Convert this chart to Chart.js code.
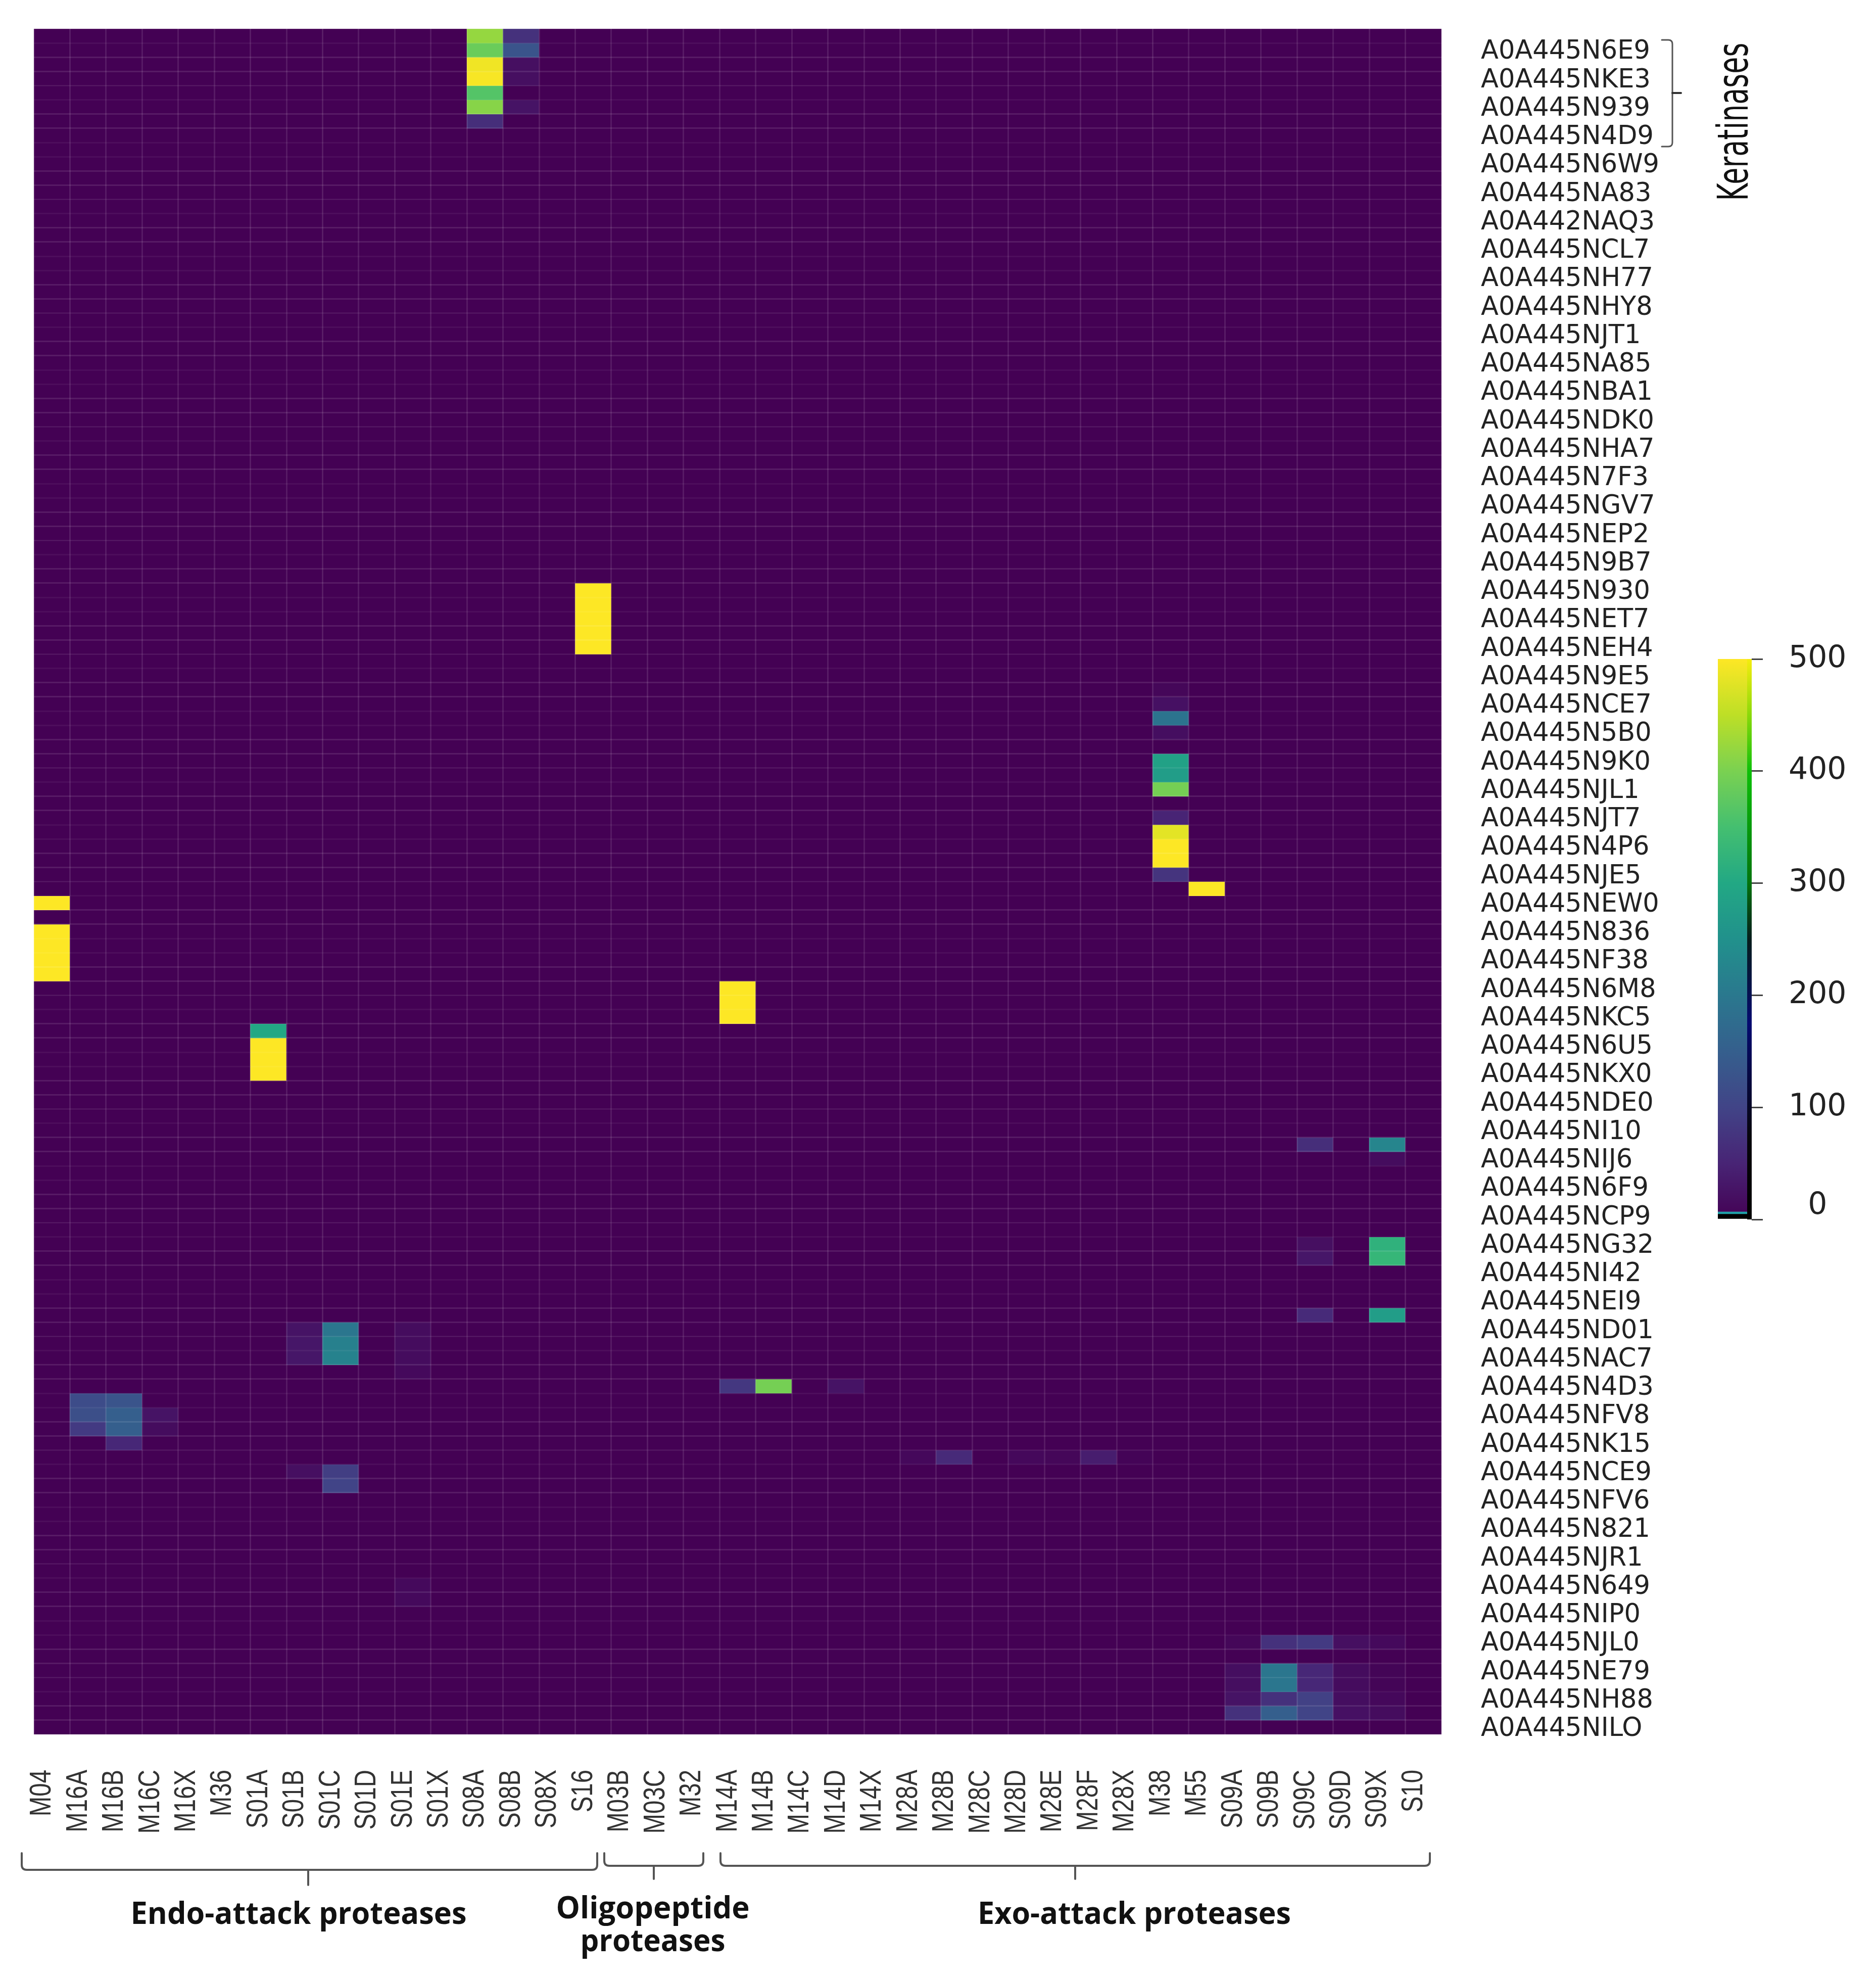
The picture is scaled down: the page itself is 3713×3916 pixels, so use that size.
<!DOCTYPE html>
<html><head><meta charset="utf-8">
<style>
html,body{margin:0;padding:0;background:#fff}
#wrap{position:relative;width:3713px;height:3916px;overflow:hidden;background:#fff}
canvas{position:absolute;display:block}
#main{left:0;top:0}
#bar{left:3360px;top:1250px}
</style>
<script src="https://cdn.jsdelivr.net/npm/chart.js@4/dist/chart.umd.min.js"></script>
</head><body><div id="wrap">
<canvas id="main" width="3713" height="3916"></canvas>
<canvas id="bar" width="353" height="1220"></canvas>
</div>
<script>
const columns = ["M04","M16A","M16B","M16C","M16X","M36","S01A","S01B","S01C","S01D","S01E","S01X","S08A","S08B","S08X","S16","M03B","M03C","M32","M14A","M14B","M14C","M14D","M14X","M28A","M28B","M28C","M28D","M28E","M28F","M28X","M38","M55","S09A","S09B","S09C","S09D","S09X","S10"];
const proteins = ["A0A445N6E9","A0A445NKE3","A0A445N939","A0A445N4D9","A0A445N6W9","A0A445NA83","A0A442NAQ3","A0A445NCL7","A0A445NH77","A0A445NHY8","A0A445NJT1","A0A445NA85","A0A445NBA1","A0A445NDK0","A0A445NHA7","A0A445N7F3","A0A445NGV7","A0A445NEP2","A0A445N9B7","A0A445N930","A0A445NET7","A0A445NEH4","A0A445N9E5","A0A445NCE7","A0A445N5B0","A0A445N9K0","A0A445NJL1","A0A445NJT7","A0A445N4P6","A0A445NJE5","A0A445NEW0","A0A445N836","A0A445NF38","A0A445N6M8","A0A445NKC5","A0A445N6U5","A0A445NKX0","A0A445NDE0","A0A445NI10","A0A445NIJ6","A0A445N6F9","A0A445NCP9","A0A445NG32","A0A445NI42","A0A445NEI9","A0A445ND01","A0A445NAC7","A0A445N4D3","A0A445NFV8","A0A445NK15","A0A445NCE9","A0A445NFV6","A0A445N821","A0A445NJR1","A0A445N649","A0A445NIP0","A0A445NJL0","A0A445NE79","A0A445NH88","A0A445NILO"];
const colorbarTicks = [0,100,200,300,400,500];

// Non-zero cells of each column: [row, value]. Every other cell is 0.
const M04  = [[61,500],[63,500],[64,500],[65,500],[66,500]];
const M16A = [[96,115],[97,120],[98,85]];
const M16B = [[96,130],[97,150],[98,150],[99,55]];
const M16C = [[97,25],[98,15]];
const S01A = [[70,300],[71,500],[72,500],[73,500]];
const S01B = [[91,25],[92,30],[93,30],[101,20]];
const S01C = [[91,195],[92,215],[93,220],[101,90],[102,100]];
const S01E = [[91,15],[92,15],[93,15],[94,12],[109,12],[110,12]];
const S08A = [[0,420],[1,385],[2,490],[3,495],[4,365],[5,410],[6,65]];
const S08B = [[0,70],[1,130],[2,20],[3,20],[5,25]];
const S16  = [[39,500],[40,500],[41,500],[42,500],[43,500]];
const M14A = [[67,500],[68,500],[69,500],[95,80]];
const M14B = [[95,395]];
const M14D = [[95,25]];
const M28A = [[100,10]];
const M28B = [[100,60]];
const M28D = [[100,10]];
const M28E = [[100,8]];
const M28F = [[100,40]];
const M28X = [[100,4]];
const M38  = [[46,8],[47,22],[48,190],[49,18],[51,285],[52,275],[53,395],[55,50],[56,480],[57,500],[58,500],[59,75]];
const M55  = [[60,500]];
const S09A = [[113,8],[115,18],[116,18],[117,25],[118,70]];
const S09B = [[113,70],[115,195],[116,195],[117,70],[118,150]];
const S09C = [[78,65],[85,20],[86,30],[90,60],[113,85],[115,55],[116,55],[117,95],[118,100]];
const S09D = [[113,20],[115,15],[116,15],[117,18],[118,22]];
const S09X = [[78,225],[79,15],[85,320],[86,330],[90,275],[113,12],[115,5],[116,5],[117,10],[118,15]];

const filled = {M04,M16A,M16B,M16C,S01A,S01B,S01C,S01E,S08A,S08B,S16,M14A,M14B,M14D,M28A,M28B,M28D,M28E,M28F,M28X,M38,M55,S09A,S09B,S09C,S09D,S09X};
const ROWS = proteins.length * 2;
const heat = Array.from({length:ROWS}, () => columns.map(() => 0));
columns.forEach((c,j) => (filled[c]||[]).forEach(([r,v]) => { heat[r][j] = v; }));

const VIR = ["#440154","#482475","#414487","#355f8d","#2a788e","#21918c","#22a884","#44bf70","#7ad151","#bddf26","#fde725"];
const rgb = h => [1,3,5].map(i => parseInt(h.substr(i,2),16));
function viridis(v){
  const t = Math.max(0,Math.min(1,v/500))*10, i = Math.min(9,Math.floor(t)), f = t-i;
  const a = rgb(VIR[i]), b = rgb(VIR[i+1]);
  return `rgb(${a.map((x,k)=>Math.round(x+(b[k]-x)*f)).join(',')})`;
}
const rowTicks = Array.from({length:ROWS}, (_,i) => i%2 ? proteins[(i-1)/2] : "");

function brace(c,x0,x1,yTop,yBar,xTick,yEnd){
  const r = 10;
  c.beginPath();
  c.moveTo(x0,yTop); c.lineTo(x0,yBar-r); c.quadraticCurveTo(x0,yBar,x0+r,yBar);
  c.lineTo(x1-r,yBar); c.quadraticCurveTo(x1,yBar,x1,yBar-r); c.lineTo(x1,yTop);
  c.moveTo(xTick,yBar); c.lineTo(xTick,yEnd);
  c.stroke();
}
const decorations = {
  id:'decorations',
  afterLayout(chart){
    // The reference's column labels are tall and narrow: squeeze their length only.
    const s = chart.scales.x, c = chart.ctx, Y = 3502, k = 0.79;
    if(s._squeezed) return;
    s._squeezed = true;
    const draw = s.drawLabels;
    s.drawLabels = function(area){
      c.save(); c.translate(0,Y); c.scale(1,k); c.translate(0,-Y);
      draw.call(s,area);
      c.restore();
    };
  },
  afterDraw(chart){
    const c = chart.ctx;
    c.save();
    c.strokeStyle = '#555'; c.lineWidth = 4; c.lineCap='round';
    brace(c,43,1182,3667,3700,610,3730);
    brace(c,1196,1392,3667,3692,1294,3718);
    brace(c,1426,2830,3667,3692,2128,3718);
    // Keratinases bracket
    c.lineWidth = 3;
    c.beginPath();
    c.moveTo(3289,79); c.lineTo(3302,79); c.quadraticCurveTo(3310,79,3310,87);
    c.lineTo(3310,282); c.quadraticCurveTo(3310,290,3302,290); c.lineTo(3289,290);
    c.stroke();
    c.lineWidth = 4;
    c.strokeStyle='#333';
    c.beginPath(); c.moveTo(3310,184); c.lineTo(3327,184); c.stroke();
    c.fillStyle = '#111';
    c.textAlign='center'; c.textBaseline='middle';
    c.font = 'bold 60px "Open Sans"';
    c.fillText('Endo-attack proteases',591,3790,665);
    c.fillText('Exo-attack proteases',2245,3790,620);
    c.fillText('Oligopeptide',1292,3779,383);
    c.fillText('proteases',1292,3844,287);
    c.translate(3437,241); c.rotate(-Math.PI/2); c.scale(0.64,1);
    c.font = '84px "DejaVu Sans"';
    c.fillText('Keratinases',0,0);
    c.restore();
  }
};

new Chart(document.getElementById('main'), {
  type:'bar',
  data:{
    labels:columns,
    datasets:heat.map(row => ({
      data:row.map((v,j) => ({x:columns[j], y:1, v})),
      backgroundColor:ctx => viridis(ctx.raw ? ctx.raw.v : 0),
      borderWidth:0, barPercentage:1, categoryPercentage:1, yAxisID:'y', xAxisID:'x'
    }))
  },
  options:{
    responsive:false, animation:false, devicePixelRatio:1,
    layout:{padding:{left:67,top:57,right:0,bottom:0}},
    plugins:{legend:{display:false},tooltip:{enabled:false}},
    events:[],
    scales:{
      x:{
        type:'category', stacked:true, offset:true, position:'bottom',
        afterFit(s){ s.height = 3916-3432; s.paddingLeft = 0; s.paddingRight = 0; },
        grid:{offset:true, z:1, drawTicks:false, color:'rgba(255,255,255,0.10)', lineWidth:3},
        border:{display:false},
        ticks:{autoSkip:false, minRotation:90, maxRotation:90, padding:70, labelOffset:-19,
               color:'#333', font:{family:'"Liberation Sans"', size:60}}
      },
      y:{type:'linear', stacked:true, reverse:true, min:0, max:ROWS, display:false},
      yLabels:{
        type:'category', position:'right', labels:rowTicks, offset:true,
        afterFit(s){ s.width = 3713-2853; s.paddingTop = 0; s.paddingBottom = 0; },
        grid:{offset:true, z:1, drawTicks:false, lineWidth:3,
              color:c => (c.index%4===2||c.index%4===3) ? 'rgba(255,255,255,0.10)' : 'rgba(255,255,255,0.05)'},
        border:{display:false},
        ticks:{autoSkip:false, padding:78, labelOffset:4, color:'#222', font:{family:'"DejaVu Sans"', size:51}, crossAlign:'near'}
      }
    }
  },
  plugins:[decorations]
});

const barEdge = {
  id:'barEdge',
  afterDatasetsDraw(chart){
    const {ctx:c, chartArea:a, scales:{y}} = chart;
    const g = c.createLinearGradient(0,y.getPixelForValue(500),0,y.getPixelForValue(0));
    [[0,'rgba(240,240,0,.6)'],[.2,'rgba(0,190,0,.9)'],[.4,'rgba(0,110,0,.9)'],[.5,'rgba(0,0,0,.8)'],[.65,'rgba(0,0,110,.9)'],[.85,'rgba(0,0,0,.9)'],[1,'rgba(0,0,0,1)']].forEach(s=>g.addColorStop(s[0],s[1]));
    c.save(); c.fillStyle=g; c.fillRect(a.right-9,a.top,9,a.bottom-a.top); c.restore();
  }
};
new Chart(document.getElementById('bar'), {
  type:'bar',
  data:{
    labels:[''],
    datasets:[
      {data:[[7,500]], borderWidth:0, barPercentage:1, categoryPercentage:1,
       backgroundColor:ctx => {
         const {chart} = ctx, y = chart.scales.y;
         if(!chart.chartArea) return VIR[0];
         const g = chart.ctx.createLinearGradient(0,y.getPixelForValue(0),0,y.getPixelForValue(500));
         VIR.forEach((h,i)=>g.addColorStop(i/10,h));
         return g;
       }},
      {data:[[5,7]], backgroundColor:'#1fa0a8', borderWidth:0, barPercentage:1, categoryPercentage:1},
      {data:[[0,5]], backgroundColor:'#000', borderWidth:0, barPercentage:1, categoryPercentage:1}
    ]
  },
  options:{
    responsive:false, animation:false, devicePixelRatio:1, events:[],
    layout:{padding:{left:40,top:54,bottom:57,right:0}},
    plugins:{legend:{display:false},tooltip:{enabled:false}},
    datasets:{bar:{grouped:false}},
    scales:{
      x:{display:false, offset:true},
      y:{
        position:'right', min:0, max:500,
        afterBuildTicks(s){ s.ticks = colorbarTicks.map(value=>({value})); },
        afterFit(s){ s.width = 3713-3467; s.paddingTop = 0; s.paddingBottom = 0; },
        grid:{drawOnChartArea:false, drawTicks:true, tickLength:22, color:'#444', lineWidth:3},
        border:{display:false},
        ticks:{padding:51, crossAlign:'center', color:'#222',
               font:{family:'"DejaVu Sans"', size:60, lineHeight:0.9},
               callback:v => v===0 ? ['0',''] : String(v)}
      }
    }
  },
  plugins:[barEdge]
});
</script></body></html>
